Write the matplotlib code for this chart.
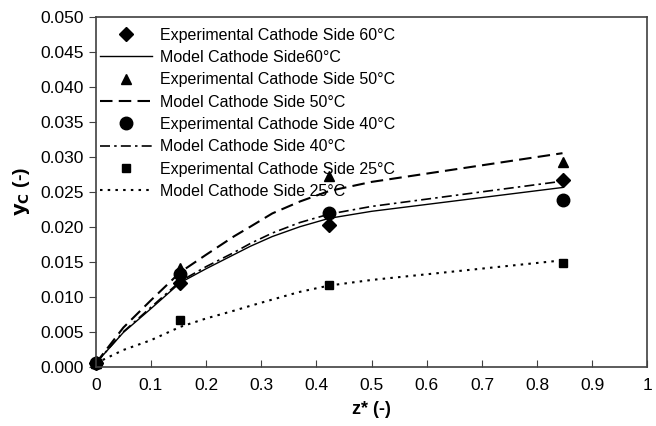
import matplotlib

matplotlib.use("Agg")
import matplotlib.pyplot as plt

plt.rcParams["font.family"] = ["Liberation Sans", "DejaVu Sans"]

# experimental points
z_exp = [0.0, 0.153, 0.423, 0.846]
exp_60 = [0.0005, 0.0120, 0.0203, 0.0267]
exp_50 = [0.0005, 0.0141, 0.0272, 0.0293]
exp_40 = [0.0005, 0.0133, 0.0220, 0.0238]
exp_25 = [0.0005, 0.0067, 0.0117, 0.0148]

# model curves
z_mod = [0.0, 0.05, 0.1, 0.153, 0.2, 0.25, 0.28, 0.32, 0.37, 0.423, 0.5, 0.846]
mod_60 = [0.0005, 0.0049, 0.0083, 0.0120, 0.0140, 0.0160, 0.0172, 0.0186, 0.0200, 0.0212, 0.0222, 0.0256]
mod_50 = [0.0005, 0.0056, 0.0095, 0.0135, 0.0160, 0.0186, 0.0200, 0.0219, 0.0236, 0.0251, 0.0264, 0.0305]
mod_40 = [0.0005, 0.0050, 0.0085, 0.0122, 0.0143, 0.0163, 0.0176, 0.0191, 0.0206, 0.0218, 0.0229, 0.0265]
mod_25 = [0.0005, 0.0024, 0.0038, 0.0057, 0.0069, 0.0080, 0.0087, 0.0096, 0.0107, 0.0116, 0.0124, 0.0152]

x_ticks = [0, 0.1, 0.2, 0.3, 0.4, 0.5, 0.6, 0.7, 0.8, 0.9, 1]
x_labels = ["0", "0.1", "0.2", "0.3", "0.4", "0.5", "0.6", "0.7", "0.8", "0.9", "1"]
y_ticks = [0.0, 0.005, 0.01, 0.015, 0.02, 0.025, 0.03, 0.035, 0.04, 0.045, 0.05]

fig = plt.figure(figsize=(6.56, 4.26), dpi=100)
ax = fig.add_axes([0.146, 0.139, 0.841, 0.822])

ax.plot(z_exp, exp_60, "D", color="black", ms=7, clip_on=False, label="Experimental Cathode Side 60°C")
ax.plot(z_mod, mod_60, "-", color="black", lw=1.0, label="Model Cathode Side60°C")
ax.plot(z_exp, exp_50, "^", color="black", ms=7, clip_on=False, label="Experimental Cathode Side 50°C")
ax.plot(z_mod, mod_50, "--", color="black", lw=1.5, dashes=(6, 3), label="Model Cathode Side 50°C")
ax.plot(z_exp, exp_40, "o", color="black", ms=9, clip_on=False, label="Experimental Cathode Side 40°C")
ax.plot(z_mod, mod_40, "-.", color="black", lw=1.2, dashes=(6, 2.5, 1.5, 2.5), label="Model Cathode Side 40°C")
ax.plot(z_exp, exp_25, "s", color="black", ms=5.5, clip_on=False, label="Experimental Cathode Side 25°C")
ax.plot(z_mod, mod_25, ":", color="black", lw=1.5, dashes=(1.2, 2.5), label="Model Cathode Side 25°C")

ax.set_xlim(0, 1)
ax.set_ylim(0, 0.05)
ax.set_xticks(x_ticks)
ax.set_xticklabels(x_labels)
ax.set_yticks(y_ticks)
ax.set_yticklabels([f"{v:.3f}" for v in y_ticks])
ax.tick_params(axis="x", direction="in", length=5, labelsize=12.5, pad=8, color="#404040")
ax.tick_params(axis="y", direction="out", length=5, labelsize=12.5, color="#404040")
for spine in ax.spines.values():
    spine.set_edgecolor("#404040")
    spine.set_linewidth(1.2)

ax.set_xlabel("z* (-)", fontsize=13, fontweight="bold", labelpad=6)
ax.set_ylabel(r"$\mathbf{y_C}$ (-)", fontsize=14, fontweight="bold", labelpad=6)

ax.legend(loc="upper left", bbox_to_anchor=(0.0, 0.98), frameon=False, fontsize=11.5,
          handlelength=3.25, handletextpad=0.5, labelspacing=0.46,
          borderpad=0.1, borderaxespad=0.15)

fig.savefig("out.png", dpi=100)
